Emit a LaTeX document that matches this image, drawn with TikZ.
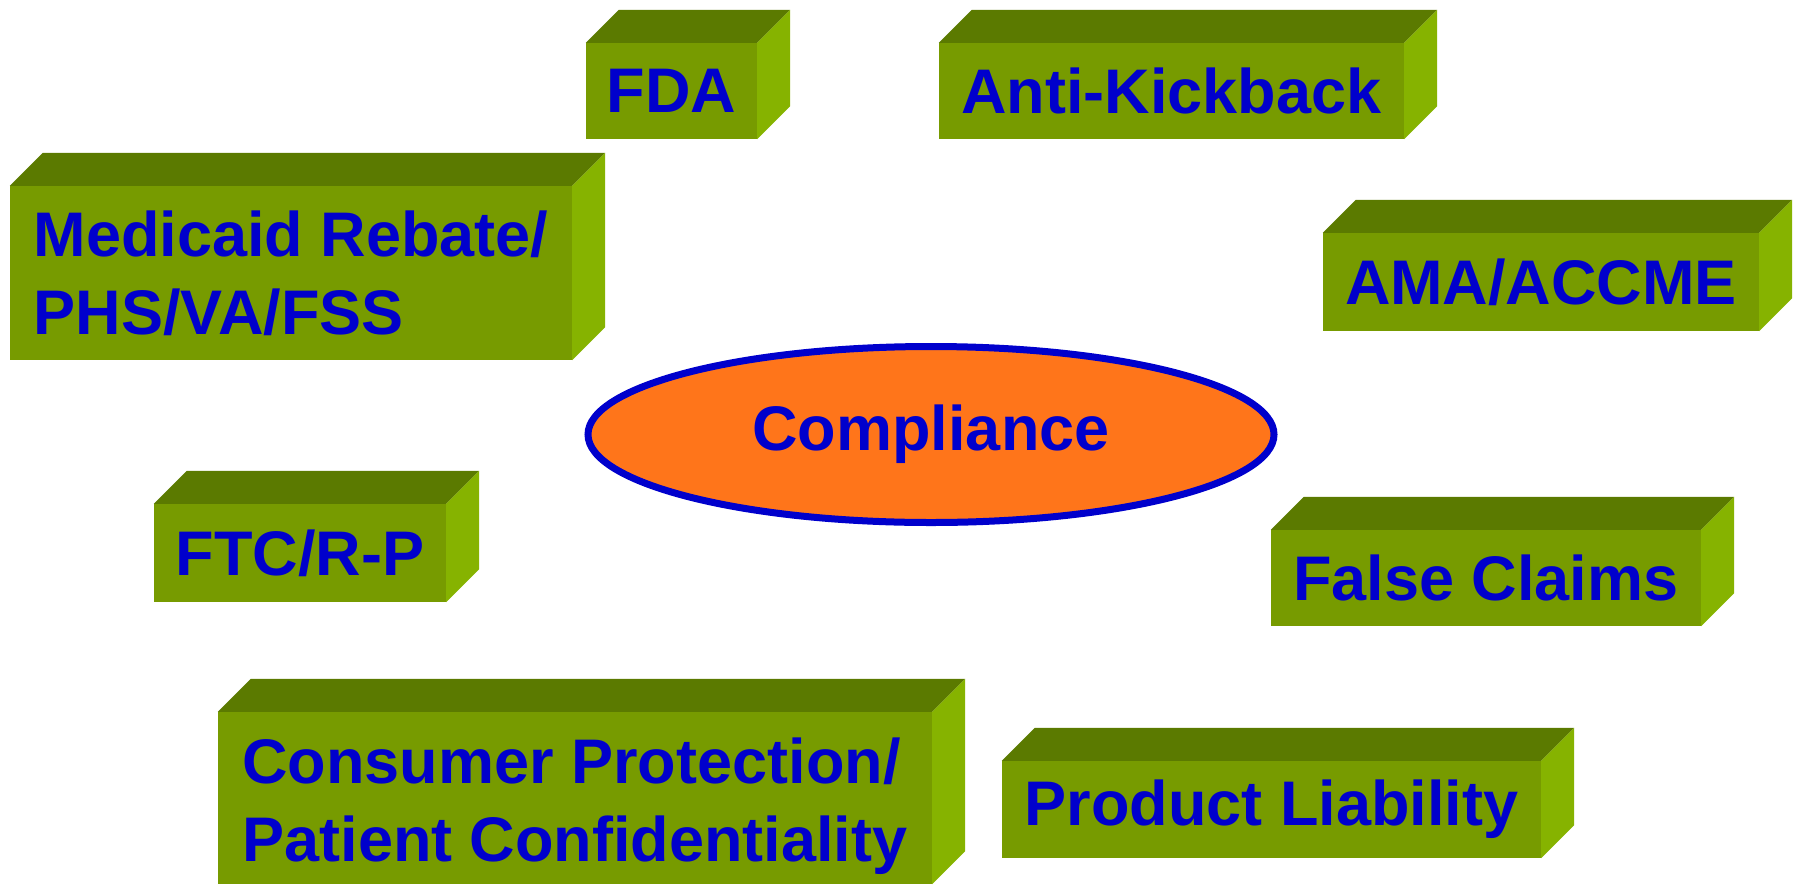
\documentclass[tikz,border=0pt]{standalone}
\usepackage{fontspec}
\setmainfont{Liberation Sans}
\usetikzlibrary{shapes.geometric}
\definecolor{frontgreen}{HTML}{779B00}
\definecolor{topgreen}{HTML}{5B7A00}
\definecolor{sidegreen}{HTML}{86B300}
\definecolor{textblue}{HTML}{0000CC}
\definecolor{corange}{HTML}{FF751A}
\begin{document}
\begin{tikzpicture}[x=1pt,y=-1pt,
  boxtext/.style={inner sep=0pt, text=textblue,
    font=\bfseries\fontsize{63}{78}\selectfont, align=left},
  facebox/.style={rectangle, fill=frontgreen, boxtext},
  hub/.style={ellipse, fill=corange, draw=textblue, line width=7pt,
    text=textblue, font=\bfseries\fontsize{63}{78}\selectfont}]
\useasboundingbox (0,0) rectangle (1802,884);
% front faces of the blocks
\node[facebox, minimum width=171pt, minimum height=96pt] (fda)   at (671.5,91)  {FDA};
\node[facebox, minimum width=465pt, minimum height=96pt] (kick)  at (1171.5,91) {Anti-Kickback};
\node[facebox, minimum width=562pt, minimum height=174pt] (medi) at (291,273)   {Medicaid Rebate/\\PHS/VA/FSS};
\node[facebox, minimum width=436pt, minimum height=98pt] (ama)   at (1541,282)  {AMA/ACCME};
\node[facebox, minimum width=292pt, minimum height=98pt] (ftc)   at (300,553)   {FTC/R-P};
\node[facebox, minimum width=430pt, minimum height=96pt] (fals)  at (1486,578)  {False Claims};
\node[facebox, minimum width=714pt, minimum height=172pt] (cons) at (575,798)   {};
\node[boxtext] (consT) at ([yshift=-8pt]cons.center) {Consumer Protection/\\Patient Confidentiality};
\node[facebox, minimum width=539pt, minimum height=97pt] (prod)  at (1271.5,809.5) {Product Liability};
% top and side faces
\foreach \n in {fda,kick,medi,ama,ftc,fals,cons,prod}{
  \fill[topgreen] (\n.north west) -- ++(33,-33) -- ([shift={(33,-33)}]\n.north east) -- (\n.north east) -- cycle;
  \fill[sidegreen] (\n.north east) -- ++(33,-33) -- ([shift={(33,-33)}]\n.south east) -- (\n.south east) -- cycle;
}
% central ellipse
\node[hub, minimum width=686pt, minimum height=176pt] (comp) at (931,434.5) {Compliance};
\end{tikzpicture}
\end{document}
